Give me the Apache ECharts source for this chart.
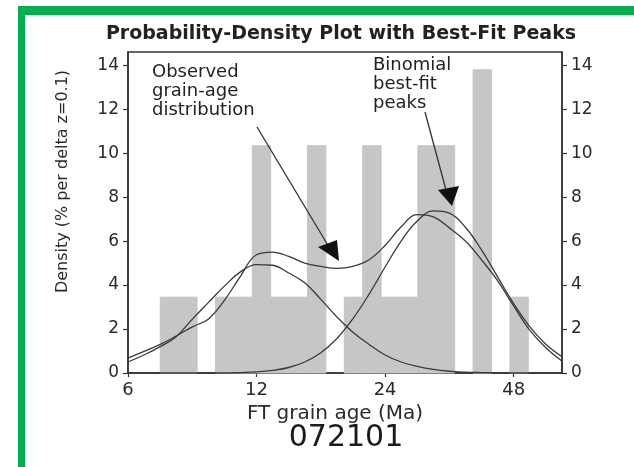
<!DOCTYPE html>
<html>
<head>
<meta charset="utf-8">
<script src="https://cdn.jsdelivr.net/npm/echarts@6/dist/echarts.min.js"></script>
<style>
html,body{margin:0;padding:0;background:#fff;}
#c{width:634px;height:467px;}
</style>
</head>
<body>
<div id="c"></div>
<script>
// ---- data ----
const xTickAgesMa = [6, 12, 24, 48];
const xMinAgeMa = 6;
const xMaxAgeMa = 62.3;
const yTicks = [0, 2, 4, 6, 8, 10, 12, 14];

// histogram: bin edges (Ma) and density (% per delta z = 0.1)
const binEdgesMa = [7.14, 7.89, 8.71, 9.62, 10.62, 11.73, 12.95, 14.30, 15.79, 17.44, 19.26,
                    21.27, 23.49, 25.94, 28.64, 31.63, 34.93, 38.57, 42.60, 47.04, 51.95];
const binDensity = [3.45, 3.45, 0, 3.45, 3.45, 10.34, 3.45, 3.45, 10.34, 0,
                    3.45, 10.34, 3.45, 3.45, 10.34, 10.34, 0, 13.79, 0, 3.45];

// curves sampled at these ages (Ma)
const curveAgesMa = [6.00, 6.54, 7.14, 7.78, 8.49, 9.25, 10.09, 11.00, 12.00, 13.09, 14.27, 15.56,
                     16.97, 18.51, 20.18, 22.01, 24.00, 26.17, 28.54, 31.13, 33.94, 37.01, 40.36, 44.02,
                     48.00, 52.35, 57.09, 62.25];
const observedPDF = [0.68, 0.98, 1.30, 1.68, 2.10, 2.45, 3.30, 4.40, 5.38, 5.50, 5.30, 5.00,
                     4.85, 4.76, 4.85, 5.15, 5.80, 6.65, 7.20, 7.10, 6.60, 6.00, 5.15, 4.20,
                     3.05, 1.95, 1.15, 0.55];
const peak1 = [0.50, 0.82, 1.20, 1.65, 2.45, 3.20, 3.95, 4.60, 4.93, 4.90, 4.55, 4.10,
               3.35, 2.55, 1.85, 1.30, 0.82, 0.50, 0.30, 0.16, 0.08, 0.04, 0.02, 0.01,
               0, 0, 0, 0];
const peak2 = [0, 0, 0, 0, 0, 0, 0, 0.02, 0.05, 0.12, 0.25, 0.50,
               0.92, 1.57, 2.47, 3.58, 4.82, 6.00, 6.91, 7.37, 7.27, 6.63, 5.60, 4.37,
               3.16, 2.11, 1.31, 0.75];

// ---- build ----
// x axis is logarithmic in age: position = log2(age / 6) octaves
const toX = a => Math.log2(a / xMinAgeMa);
const xMax = toX(xMaxAgeMa);
const yMax = 14.6;

const histData = binDensity.map((d, i) => [toX(binEdgesMa[i]), toX(binEdgesMa[i + 1]), d]);
const curve = vals => curveAgesMa.map((a, i) => [toX(a), vals[i]]);

const FONT = 'DejaVu Sans';
const TXT = '#2a2a2a';
const LINE = '#333333';
const BAR = '#c6c6c6';

const yAxisCommon = {
  type: 'value', min: 0, max: yMax, interval: 2,
  axisLine: {show: true, lineStyle: {color: LINE, width: 1.5}},
  axisTick: {show: true, length: 5, lineStyle: {color: LINE, width: 1.2}},
  splitLine: {show: false},
  axisLabel: {
    color: TXT, fontFamily: FONT, fontSize: 17, margin: 9, showMaxLabel: false,
    formatter: v => (yTicks.indexOf(v) >= 0 ? String(v) : '')
  }
};

const chart = echarts.init(document.getElementById('c'), null, {renderer: 'canvas'});
chart.setOption({
  animation: false,
  backgroundColor: '#ffffff',
  title: [
    {text: 'Probability-Density Plot with Best-Fit Peaks', left: 341, top: 25, padding: 0,
     textAlign: 'center',
     textStyle: {fontFamily: FONT, fontWeight: 'bold', fontSize: 19, color: '#222'}},
    {text: '072101', left: 346, top: 423, padding: 0, textAlign: 'center',
     textStyle: {fontFamily: FONT, fontWeight: 'normal', fontSize: 30, color: '#1a1a1a'}}
  ],
  grid: {left: 128, right: 72, top: 52, bottom: 94, show: true, borderColor: LINE, borderWidth: 1.5,
         backgroundColor: 'transparent'},
  xAxis: {
    type: 'value', min: 0, max: xMax, interval: 1,
    name: 'FT grain age (Ma)', nameLocation: 'middle', nameGap: 28,
    nameTextStyle: {color: TXT, fontFamily: FONT, fontSize: 20, padding: [0, 20, 0, 0]},
    axisLine: {show: true, onZero: false, lineStyle: {color: LINE, width: 1.5}},
    axisTick: {show: true, length: 4, lineStyle: {color: LINE, width: 1.2}},
    splitLine: {show: false},
    axisLabel: {
      color: TXT, fontFamily: FONT, fontSize: 18, margin: 8, showMaxLabel: false,
      formatter: v => {
        const a = Math.round(xMinAgeMa * Math.pow(2, v));
        return xTickAgesMa.indexOf(a) >= 0 && Math.abs(v - Math.round(v)) < 1e-6 ? String(a) : '';
      }
    }
  },
  yAxis: [
    Object.assign({}, yAxisCommon, {
      position: 'left',
      name: 'Density (% per delta z=0.1)', nameLocation: 'middle', nameGap: 57, nameRotate: 90,
      nameTextStyle: {color: TXT, fontFamily: FONT, fontSize: 16, padding: [0, 0, 0, 62]}
    }),
    Object.assign({}, yAxisCommon, {position: 'right'})
  ],
  series: [
    {
      type: 'custom', name: 'Histogram', xAxisIndex: 0, yAxisIndex: 0, z: 1,
      data: histData,
      encode: {x: [0, 1], y: 2},
      renderItem: (params, api) => {
        const h = api.value(2);
        if (!h) return null;
        const p0 = api.coord([api.value(0), h]);
        const p1 = api.coord([api.value(1), 0]);
        return {
          type: 'rect',
          shape: {x: p0[0], y: p0[1], width: p1[0] - p0[0], height: p1[1] - p0[1]},
          style: {fill: BAR, stroke: BAR, lineWidth: 1}
        };
      }
    },
    {type: 'line', name: 'Observed', data: curve(observedPDF), smooth: 0.4, showSymbol: false, z: 3,
     lineStyle: {color: '#3a3a3a', width: 1.3}},
    {type: 'line', name: 'Peak 1', data: curve(peak1), smooth: 0.4, showSymbol: false, z: 3,
     lineStyle: {color: '#3a3a3a', width: 1.3}},
    {type: 'line', name: 'Peak 2', data: curve(peak2), smooth: 0.4, showSymbol: false, z: 3,
     lineStyle: {color: '#3a3a3a', width: 1.3}}
  ],
  graphic: [
    // green frame of the figure
    {type: 'rect', shape: {x: 18, y: 6, width: 616, height: 9}, style: {fill: '#00b050'}, z: 10},
    {type: 'rect', shape: {x: 18, y: 6, width: 7, height: 461}, style: {fill: '#00b050'}, z: 10},
    // annotation: observed distribution
    {type: 'text', x: 152, y: 63, z: 10,
     style: {text: 'Observed\ngrain-age\ndistribution', fill: '#222', font: '18px "DejaVu Sans"', lineHeight: 19,
             align: 'left', verticalAlign: 'top'}},
    {type: 'line', z: 10, shape: {x1: 257, y1: 127, x2: 329, y2: 247}, style: {stroke: '#333', lineWidth: 1.3}},
    {type: 'polygon', z: 10, shape: {points: [[318, 247], [337, 240], [339, 261]]}, style: {fill: '#111'}},
    // annotation: binomial peaks
    {type: 'text', x: 373, y: 56, z: 10,
     style: {text: 'Binomial\nbest-fit\npeaks', fill: '#222', font: '18px "DejaVu Sans"', lineHeight: 19,
             align: 'left', verticalAlign: 'top'}},
    {type: 'line', z: 10, shape: {x1: 425, y1: 112, x2: 446, y2: 190}, style: {stroke: '#333', lineWidth: 1.3}},
    {type: 'polygon', z: 10, shape: {points: [[438, 190], [459, 186], [452, 206]]}, style: {fill: '#111'}}
  ]
});
</script>
</body>
</html>
